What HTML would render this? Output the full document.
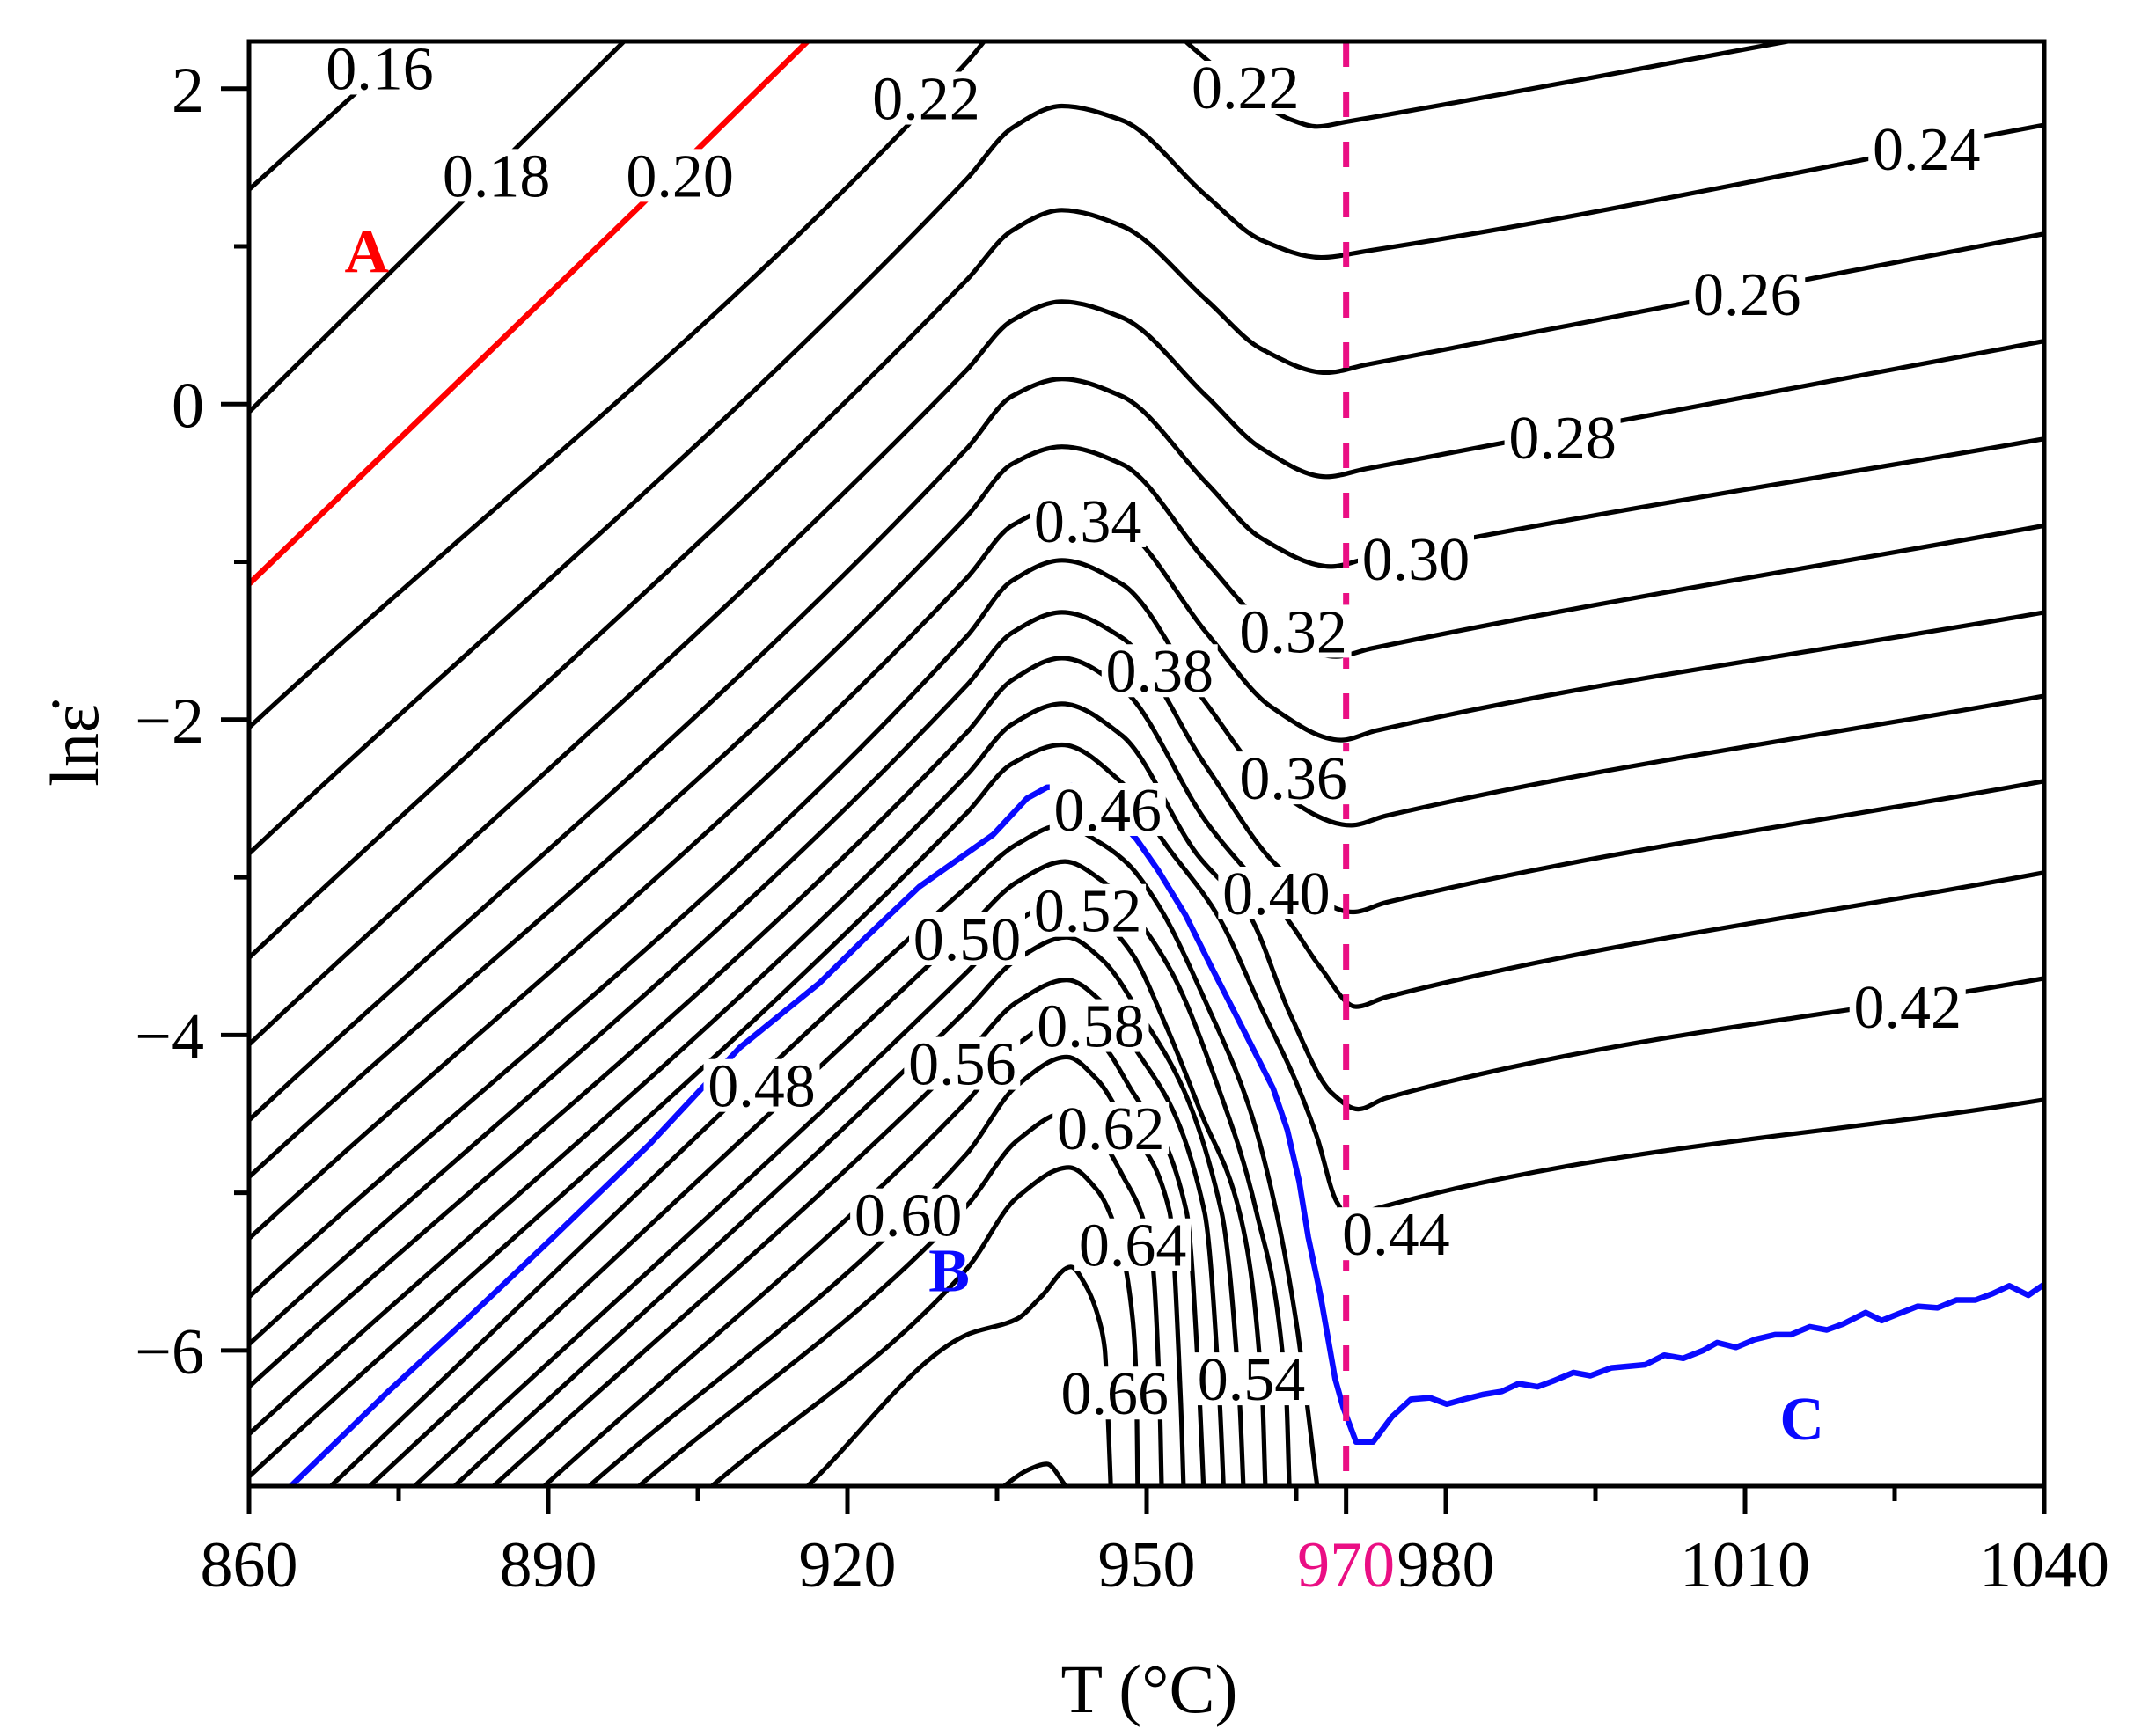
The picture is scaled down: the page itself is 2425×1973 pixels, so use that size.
<!DOCTYPE html>
<html><head><meta charset="utf-8"><title>Processing map contour</title>
<style>
html,body{margin:0;padding:0;background:#fff;}
svg{display:block;font-family:"Liberation Serif","DejaVu Serif",serif;}
</style></head>
<body>
<svg id="chart" width="2425" height="1973" viewBox="0 0 2425 1973" xmlns="http://www.w3.org/2000/svg">
<rect x="0" y="0" width="2425" height="1973" fill="#fff"/>
<defs><clipPath id="plotclip"><rect x="283" y="47" width="2040" height="1642"/></clipPath></defs>
<g id="contours" clip-path="url(#plotclip)"></g>
<g id="labels" clip-path="url(#plotclip)"></g>
<g id="axes"></g>
</svg>
<script>
// ---- axis domains ----
const xDomain = [860, 1040];
const yDomain = [-6.86, 2.30];
const xMajorTicks = [860, 890, 920, 950, 970, 980, 1010, 1040];
const xTickLabels = ["860", "890", "920", "950", "970", "980", "1010", "1040"];
const xMinorTicks = [875, 905, 935, 965, 995, 1025];
const yMajorTicks = [-6, -4, -2, 0, 2];
const yTickLabels = ["\u22126", "\u22124", "\u22122", "0", "2"];
const yMinorTicks = [-5, -3, -1, 1];
const dashedT = [970];

// ---- contour data: [T, ln(strain rate)] pairs ----
const c016 = [[860,1.36],[882,2.62]];
const c018 = [[860,-0.05],[900,2.45]];
const c020 = [[860,-1.14],[899.1,1.25],[920,2.55]];
const c022 = [[860,-2.05],[932,2.17],[935,2.4],[938,2.6],[945,2.6],[952,2.4],[954.8,2.25],[960,1.98],[964.6,1.80],[967.1,1.76],[970,1.79],[1016,2.32]];
const c024 = [[860,-2.85],[932,1.43],[936.5,1.75],[941.5,1.89],[947.5,1.80],[956,1.32],[961.5,1.04],[967.5,0.93],[972,0.97],[1040,1.77]];
const c026 = [[860,-3.51],[932,0.79],[936.5,1.10],[941.5,1.23],[947.5,1.13],[956,0.66],[961.5,0.35],[968,0.20],[972,0.25],[1040,1.08]];
const c028 = [[860,-4.06],[932,0.22],[936.5,0.53],[941.5,0.65],[947.5,0.55],[956,0.05],[961.5,-0.28],[968,-0.46],[972,-0.41],[1040,0.40]];
const c030 = [[860,-4.54],[932,-0.28],[936.5,0.05],[941.5,0.16],[947.5,0.05],[956,-0.50],[961.5,-0.85],[968.5,-1.03],[972,-0.98],[1040,-0.22]];
const c032 = [[860,-4.90],[932,-0.71],[936.5,-0.38],[941.5,-0.27],[947.5,-0.38],[956,-1.00],[962,-1.40],[969,-1.60],[972.5,-1.55],[1040,-0.77]];
const c034 = [[860,-5.29],[932,-1.10],[936.5,-0.77],[941.5,-0.65],[947.5,-0.78],[956,-1.45],[962.5,-1.92],[969.5,-2.13],[973,-2.07],[1040,-1.32]];
const c036 = [[860,-5.66],[932,-1.47],[936.5,-1.12],[941.5,-0.99],[947.5,-1.14],[956,-1.90],[963,-2.45],[970.5,-2.67],[974,-2.61],[1040,-1.85]];
const c038 = [[860,-5.96],[932,-1.78],[936.5,-1.45],[941.5,-1.32],[947.5,-1.48],[956,-2.30],[963.5,-2.95],[970.7,-3.22],[974,-3.16],[1040,-2.39]];
const c040 = [[860,-6.23],[932,-2.08],[936.5,-1.75],[941.5,-1.61],[947.5,-1.80],[956,-2.65],[964.4,-3.29],[967.4,-3.57],[971,-3.82],[974,-3.76],[1040,-2.97]];
const c042 = [[860,-6.53],[932,-2.35],[936.5,-2.03],[941.5,-1.90],[947.5,-2.10],[955,-2.85],[960.3,-3.24],[964.4,-3.87],[968.6,-4.37],[971.2,-4.47],[974,-4.40],[1040,-3.64]];
const c044 = [[860,-6.80],[932,-2.59],[936.5,-2.28],[941.5,-2.16],[947.5,-2.40],[952,-2.80],[957.1,-3.24],[961.5,-3.83],[965,-4.30],[967.1,-4.65],[969,-5.05],[970.5,-5.17],[973,-5.10],[1040,-4.41]];
const c048 = [[868.2,-6.86],[932,-3.06],[937,-2.79],[941.5,-2.67],[945.3,-2.78],[948.2,-2.92],[951.2,-3.18],[956.2,-3.83],[960.3,-4.46],[963,-5.12],[965,-5.82],[967.1,-6.86]];
const c050 = [[872.1,-6.86],[932,-3.33],[937,-3.03],[941.8,-2.90],[945.5,-3.02],[948.5,-3.22],[952.5,-3.60],[957,-4.30],[961,-5.12],[964,-6.29],[964.3,-6.86]];
const c052 = [[876.6,-6.86],[932,-3.60],[937,-3.28],[941.8,-3.14],[945.5,-3.27],[948.5,-3.48],[952,-3.95],[955.5,-4.50],[959.3,-5.12],[961.6,-6.29],[961.9,-6.86]];
const c054 = [[880.6,-6.86],[932,-3.84],[937,-3.52],[942,-3.38],[945.5,-3.52],[948.5,-3.78],[957.5,-5.12],[959.3,-6.29],[959.7,-6.86]];
const c056 = [[884.5,-6.86],[932,-4.12],[937,-3.79],[942,-3.65],[945.5,-3.79],[948.5,-4.05],[955.8,-5.12],[957.3,-6.29],[957.7,-6.86]];
const c058 = [[889.6,-6.86],[932,-4.42],[937,-4.06],[942,-3.90],[945.3,-4.04],[948.2,-4.32],[954.0,-5.12],[955.3,-6.29],[955.7,-6.86]];
const c060 = [[894.1,-6.86],[932,-4.75],[937,-4.32],[942,-4.14],[945,-4.28],[947.8,-4.56],[952.3,-5.12],[953.4,-6.29],[953.7,-6.86]];
const c062 = [[899.1,-6.86],[932,-5.08],[937,-4.67],[942,-4.49],[945,-4.63],[947.5,-4.88],[950.5,-5.40],[951.3,-6.29],[951.5,-6.86]];
const c064 = [[906.4,-6.86],[932,-5.48],[937,-5.03],[942.2,-4.84],[945,-4.98],[947,-5.25],[948.6,-5.80],[949,-6.29],[949.1,-6.86]];
const c066 = [[916.0,-6.86],[932,-5.90],[937,-5.80],[939.4,-5.66],[942.4,-5.47],[943.9,-5.59],[945.3,-5.82],[945.8,-5.99],[946.2,-6.53],[946.4,-6.86]];
const c068 = [[935.7,-6.86],[938,-6.76],[940,-6.72],[941.9,-6.86]];
const c046blue = [[864.2,-6.86],[873.8,-6.27],[882.2,-5.78],[890.7,-5.27],[900.2,-4.69],[909.2,-4.08],[917.2,-3.67],[921.7,-3.39],[927.2,-3.06],[934.6,-2.73],[938,-2.50],[940,-2.43],[942.5,-2.42],[946,-2.55],[949,-2.76],[951.2,-2.96],[953.9,-3.24],[956.5,-3.57],[958.6,-3.83],[960.3,-4.04],[962.7,-4.34],[964.1,-4.60],[965.3,-4.93],[966.2,-5.28],[967.4,-5.64],[968.9,-6.18],[969.7,-6.36],[971.0,-6.58],[972.7,-6.58],[974.6,-6.42],[976.5,-6.31],[978.4,-6.30],[980.1,-6.34],[981.8,-6.31],[983.7,-6.28],[985.6,-6.26],[987.3,-6.21],[989.2,-6.23],[990.9,-6.19],[992.8,-6.14],[994.5,-6.16],[996.6,-6.11],[1000.0,-6.09],[1001.9,-6.03],[1003.8,-6.05],[1005.8,-6.00],[1007.2,-5.95],[1009.1,-5.98],[1011.0,-5.93],[1013.0,-5.90],[1014.6,-5.90],[1016.5,-5.85],[1018.2,-5.87],[1019.9,-5.83],[1022.1,-5.76],[1023.7,-5.81],[1025.7,-5.76],[1027.3,-5.72],[1029.3,-5.73],[1031.2,-5.68],[1033.1,-5.68],[1034.8,-5.64],[1036.5,-5.59],[1038.4,-5.65],[1040,-5.58]];

// ---- contour label data ----
const labelTexts = ["0.16","0.18","0.20","0.22","0.22","0.24","0.26","0.28","0.30","0.32","0.34","0.38","0.36","0.40","0.42","0.44","0.46","0.50","0.52","0.48","0.56","0.58","0.62","0.60","0.64","0.66","0.54"];
const labelT = [873.1,884.8,903.2,927.9,959.9,1028.2,1010.2,991.7,977.0,964.7,944.1,951.3,964.7,963.0,1026.3,975.0,946.1,932.0,944.1,911.4,931.5,944.4,946.4,926.1,948.6,946.8,960.5];
const labelV = [2.13,1.45,1.45,1.94,2.01,1.62,0.70,-0.21,-0.98,-1.44,-0.74,-1.69,-2.37,-3.10,-3.82,-5.26,-2.57,-3.39,-3.21,-4.32,-4.18,-3.94,-4.59,-5.14,-5.33,-6.27,-6.18];

// ---- region letters ----
const regionTexts = ["A","B","C"];
const regionT = [871.8,930.2,1015.7];
const regionV = [0.97,-5.49,-6.43];
const regionColors = ["#ff0000","#0a0aff","#0a0aff"];

const NS = "http://www.w3.org/2000/svg";
const X0 = 283, X1 = 2323, Y0 = 47, Y1 = 1689;
function sx(t){ return X0 + (t - xDomain[0]) / (xDomain[1] - xDomain[0]) * (X1 - X0); }
function sy(v){ return Y1 - (v - yDomain[0]) / (yDomain[1] - yDomain[0]) * (Y1 - Y0); }

function smoothPath(pts){
  const p = pts.map(d => [sx(d[0]), sy(d[1])]);
  const n = p.length;
  if (n < 3) return "M" + p.map(q => q[0].toFixed(1) + "," + q[1].toFixed(1)).join(" L");
  const h = [], dl = [];
  for (let i = 0; i < n - 1; i++) { h.push(p[i+1][0] - p[i][0]); dl.push((p[i+1][1] - p[i][1]) / h[i]); }
  const m = new Array(n);
  m[0] = dl[0]; m[n-1] = dl[n-2];
  for (let i = 1; i < n - 1; i++) {
    if (dl[i-1] * dl[i] <= 0) m[i] = 0;
    else {
      const w1 = 2*h[i] + h[i-1], w2 = h[i] + 2*h[i-1];
      m[i] = (w1 + w2) / (w1 / dl[i-1] + w2 / dl[i]);
    }
  }
  let d = "M" + p[0][0].toFixed(1) + "," + p[0][1].toFixed(1);
  for (let i = 0; i < n - 1; i++) {
    const c1x = p[i][0] + h[i]/3, c1y = p[i][1] + m[i]*h[i]/3;
    const c2x = p[i+1][0] - h[i]/3, c2y = p[i+1][1] - m[i+1]*h[i]/3;
    d += " C" + c1x.toFixed(1) + "," + c1y.toFixed(1) + " " + c2x.toFixed(1) + "," + c2y.toFixed(1) + " " + p[i+1][0].toFixed(1) + "," + p[i+1][1].toFixed(1);
  }
  return d;
}
function polyPath(pts){
  return "M" + pts.map(d => sx(d[0]).toFixed(1) + "," + sy(d[1]).toFixed(1)).join(" L");
}

const gC = document.getElementById("contours");
const blackContours = [c016,c018,c022,c024,c026,c028,c030,c032,c034,c036,c038,c040,c042,c044,c048,c050,c052,c054,c056,c058,c060,c062,c064,c066,c068];
const blackNames = ["016","018","022","024","026","028","030","032","034","036","038","040","042","044","048","050","052","054","056","058","060","062","064","066","068"];
blackContours.forEach((c, i) => {
  const el = document.createElementNS(NS, "path");
  el.setAttribute("d", smoothPath(c));
  el.setAttribute("fill", "none");
  el.setAttribute("stroke", "#000");
  el.setAttribute("stroke-width", "5.2");
  el.setAttribute("stroke-linejoin", "round");
  
  
  gC.appendChild(el);
});
{
  const el = document.createElementNS(NS, "path");
  el.setAttribute("d", smoothPath(c020));
  el.setAttribute("fill", "none");
  el.setAttribute("stroke", "#ff0000");
  el.setAttribute("stroke-width", "6.5");
  
  
  gC.appendChild(el);
}
{
  const el = document.createElementNS(NS, "path");
  el.setAttribute("d", polyPath(c046blue));
  el.setAttribute("fill", "none");
  el.setAttribute("stroke", "#0a0aff");
  el.setAttribute("stroke-width", "6.5");
  el.setAttribute("stroke-linejoin", "round");
  
  
  gC.appendChild(el);
}
dashedT.forEach(t => {
  const el = document.createElementNS(NS, "line");
  el.setAttribute("x1", sx(t)); el.setAttribute("x2", sx(t));
  el.setAttribute("y1", Y0); el.setAttribute("y2", Y1);
  el.setAttribute("stroke", "#ea0f84");
  el.setAttribute("stroke-width", "7");
  el.setAttribute("stroke-dasharray", "29 28");
  
  
  gC.appendChild(el);
});

const gL = document.getElementById("labels");
labelTexts.forEach((s, i) => {
  const cx = sx(labelT[i]), cy = sy(labelV[i]);
  const r = document.createElementNS(NS, "rect");
  r.setAttribute("x", cx - 66); r.setAttribute("y", cy - 30);
  r.setAttribute("width", 132); r.setAttribute("height", 60);
  r.setAttribute("fill", "#fff");
  
  
  gL.appendChild(r);
});
labelTexts.forEach((s, i) => {
  const t = document.createElementNS(NS, "text");
  t.setAttribute("x", sx(labelT[i]));
  t.setAttribute("y", sy(labelV[i]) + 24);
  t.setAttribute("text-anchor", "middle");
  t.setAttribute("font-size", "70");
  t.setAttribute("fill", "#000");
  t.textContent = s;
  
  
  gL.appendChild(t);
});
regionTexts.forEach((s, i) => {
  const t = document.createElementNS(NS, "text");
  t.setAttribute("x", sx(regionT[i]));
  t.setAttribute("y", sy(regionV[i]) + 24);
  t.setAttribute("text-anchor", "middle");
  t.setAttribute("font-size", "70");
  t.setAttribute("font-weight", "bold");
  t.setAttribute("fill", regionColors[i]);
  t.textContent = s;
  
  
  gL.appendChild(t);
});

const gA = document.getElementById("axes");
{
  const r = document.createElementNS(NS, "rect");
  r.setAttribute("x", X0); r.setAttribute("y", Y0);
  r.setAttribute("width", X1 - X0); r.setAttribute("height", Y1 - Y0);
  r.setAttribute("fill", "none"); r.setAttribute("stroke", "#000"); r.setAttribute("stroke-width", "5");
  
  
  gA.appendChild(r);
}
xMajorTicks.forEach((t, i) => {
  const l = document.createElementNS(NS, "line");
  l.setAttribute("x1", sx(t)); l.setAttribute("x2", sx(t));
  l.setAttribute("y1", Y1); l.setAttribute("y2", Y1 + 32);
  l.setAttribute("stroke", "#000"); l.setAttribute("stroke-width", "5");
  
  
  gA.appendChild(l);
  const tx = document.createElementNS(NS, "text");
  tx.setAttribute("x", sx(t)); tx.setAttribute("y", 1803);
  tx.setAttribute("text-anchor", "middle"); tx.setAttribute("font-size", "74");
  tx.setAttribute("fill", t === 970 ? "#ea0f84" : "#000");
  tx.textContent = xTickLabels[i];
  
  
  gA.appendChild(tx);
});
xMinorTicks.forEach(t => {
  const l = document.createElementNS(NS, "line");
  l.setAttribute("x1", sx(t)); l.setAttribute("x2", sx(t));
  l.setAttribute("y1", Y1); l.setAttribute("y2", Y1 + 17);
  l.setAttribute("stroke", "#000"); l.setAttribute("stroke-width", "5");
  
  
  gA.appendChild(l);
});
yMajorTicks.forEach((v, i) => {
  const l = document.createElementNS(NS, "line");
  l.setAttribute("x1", X0 - 32); l.setAttribute("x2", X0);
  l.setAttribute("y1", sy(v)); l.setAttribute("y2", sy(v));
  l.setAttribute("stroke", "#000"); l.setAttribute("stroke-width", "5");
  
  
  gA.appendChild(l);
  const tx = document.createElementNS(NS, "text");
  tx.setAttribute("x", 232); tx.setAttribute("y", sy(v) + 26);
  tx.setAttribute("text-anchor", "end"); tx.setAttribute("font-size", "74");
  tx.textContent = yTickLabels[i];
  
  
  gA.appendChild(tx);
});
yMinorTicks.forEach(v => {
  const l = document.createElementNS(NS, "line");
  l.setAttribute("x1", X0 - 17); l.setAttribute("x2", X0);
  l.setAttribute("y1", sy(v)); l.setAttribute("y2", sy(v));
  l.setAttribute("stroke", "#000"); l.setAttribute("stroke-width", "5");
  
  
  gA.appendChild(l);
});
</script>
<div style="position:absolute;left:0;top:0;width:2425px;height:1973px;pointer-events:none;">
  <div style="position:absolute;left:1106px;top:1875px;width:400px;text-align:center;font-family:'Liberation Serif',serif;font-size:78px;line-height:90px;">T (°C)</div>
  <div style="position:absolute;left:-115px;top:802px;width:400px;text-align:center;font-family:'Liberation Serif',serif;font-size:78px;line-height:90px;transform:rotate(-90deg);">ln&#949;&#775;</div>
</div>
</body></html>
